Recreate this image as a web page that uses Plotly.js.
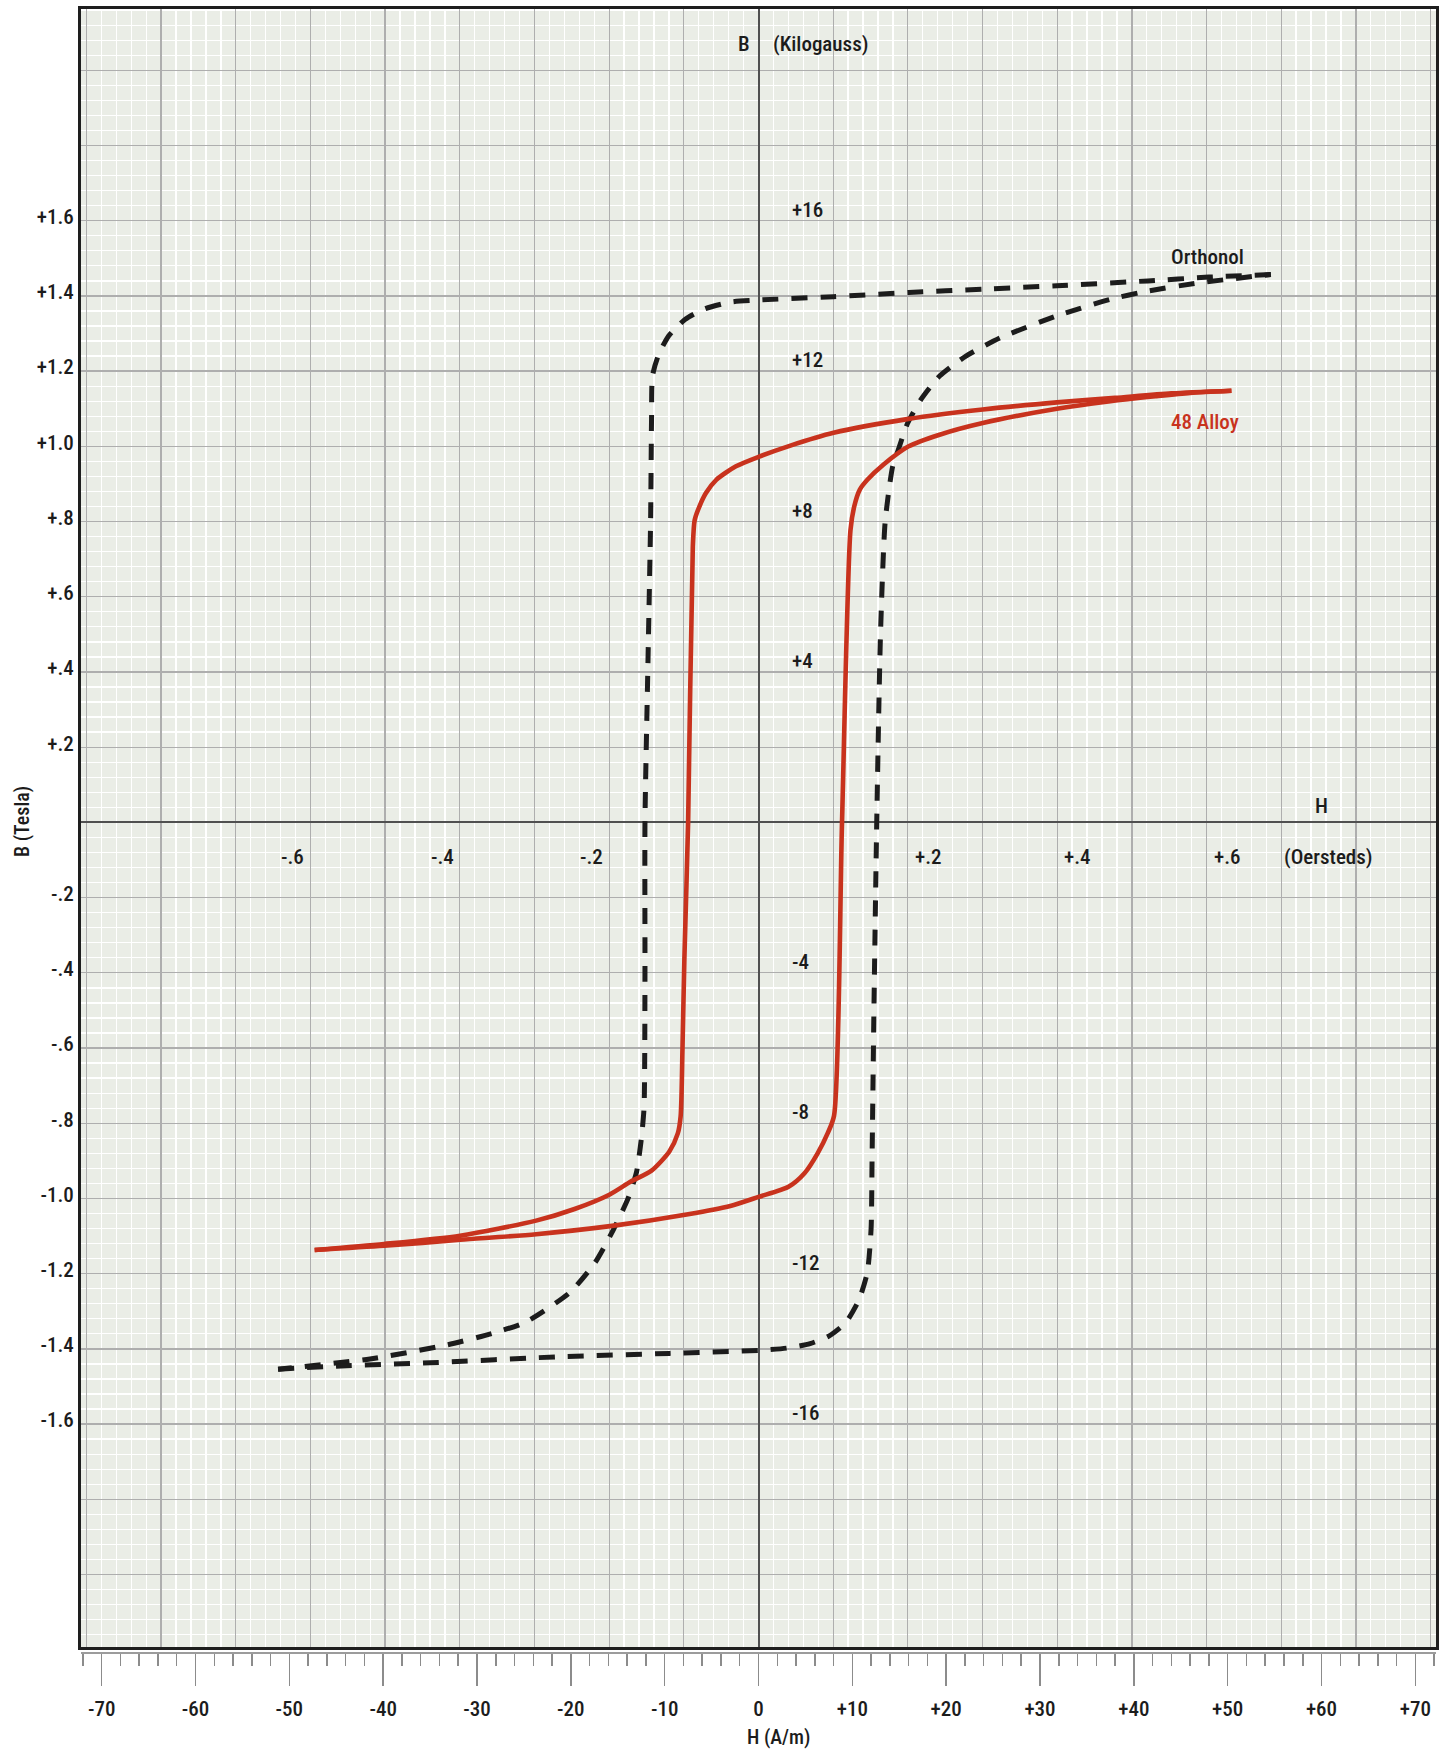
<!DOCTYPE html>
<html>
<head>
<meta charset="utf-8">
<script src="https://cdn.plot.ly/plotly-3.0.1.min.js"></script>
<style>
html,body{margin:0;padding:0;background:#ffffff;}
#chart{width:1450px;height:1752px;}
</style>
</head>
<body>
<div id="chart"></div>
<script>
// ---------- DATA (H in A/m, B in Tesla) ----------
const orthonolDescH = [54.6, 48.0, 41.5, 31.8, 23.9, 16.0, 8.0, 0, -2.9, -5.7, -7.8, -9.6, -10.7, -11.3, -11.4, -11.5, -11.8, -12.1, -12.1, -12.2, -12.5, -13.0, -13.9, -15.5, -17.4, -20.1, -24.9, -28.4, -33.1, -41.4, -51.2];
const orthonolDescB = [1.457, 1.450, 1.440, 1.427, 1.418, 1.409, 1.398, 1.389, 1.384, 1.366, 1.338, 1.293, 1.240, 1.187, 1.070, 0.800, 0.400, 0.000, -0.420, -0.760, -0.844, -0.930, -1.000, -1.085, -1.170, -1.250, -1.330, -1.359, -1.389, -1.427, -1.454];
const orthonolAscH = [-51.2, -45.0, -35.0, -21.3, -9.5, 0, 3.0, 5.5, 7.5, 9.3, 10.7, 11.6, 12.0, 12.1, 12.3, 12.6, 13.0, 13.5, 14.3, 14.9, 15.9, 17.3, 19.3, 22.1, 25.8, 31.8, 37.5, 41.5, 47.0, 54.6];
const orthonolAscB = [-1.454, -1.446, -1.437, -1.421, -1.412, -1.404, -1.398, -1.386, -1.366, -1.330, -1.270, -1.196, -1.080, -0.900, -0.500, 0.000, 0.500, 0.800, 0.947, 0.991, 1.062, 1.124, 1.187, 1.240, 1.289, 1.347, 1.391, 1.413, 1.435, 1.457];
const alloyDescH = [50.4, 44.0, 38.0, 31.8, 23.9, 16.0, 8.0, 3.4, 0, -2.4, -4.5, -5.6, -6.3, -6.8, -7.0, -7.5, -7.9, -8.1, -8.3, -8.6, -9.5, -11.4, -13.6, -15.9, -19.6, -23.7, -31.8, -39.9, -47.3];
const alloyDescB = [1.148, 1.141, 1.129, 1.117, 1.098, 1.073, 1.036, 1.002, 0.972, 0.947, 0.911, 0.876, 0.840, 0.804, 0.733, 0.000, -0.364, -0.600, -0.782, -0.827, -0.875, -0.926, -0.955, -0.990, -1.028, -1.059, -1.099, -1.121, -1.137];
const alloyAscH = [-47.3, -39.9, -31.8, -23.7, -15.6, -7.5, -3.0, 0, 3.2, 4.9, 6.3, 7.4, 8.05, 8.9, 9.8, 10.2, 10.8, 11.6, 13.3, 16.0, 19.3, 23.9, 31.8, 37.5, 42.3, 46.0, 50.4];
const alloyAscB = [-1.137, -1.126, -1.110, -1.095, -1.073, -1.042, -1.020, -0.996, -0.969, -0.933, -0.880, -0.825, -0.780, 0.000, 0.777, 0.840, 0.885, 0.911, 0.951, 1.000, 1.031, 1.062, 1.100, 1.120, 1.133, 1.142, 1.148];

// tick / label values
const amTickVals = [-70, -60, -50, -40, -30, -20, -10, 0, 10, 20, 30, 40, 50, 60, 70];
const amTickText = ['-70', '-60', '-50', '-40', '-30', '-20', '-10', '0', '+10', '+20', '+30', '+40', '+50', '+60', '+70'];
const teslaVals = [1.6, 1.4, 1.2, 1.0, 0.8, 0.6, 0.4, 0.2, -0.2, -0.4, -0.6, -0.8, -1.0, -1.2, -1.4, -1.6];
const teslaText = ['+1.6', '+1.4', '+1.2', '+1.0', '+.8', '+.6', '+.4', '+.2', '-.2', '-.4', '-.6', '-.8', '-1.0', '-1.2', '-1.4', '-1.6'];
const oerstedVals = [-0.6, -0.4, -0.2, 0.2, 0.4, 0.6];
const oerstedText = ['-.6', '-.4', '-.2', '+.2', '+.4', '+.6'];
const kilogaussVals = [16, 12, 8, 4, -4, -8, -12, -16];
const kilogaussText = ['+16', '+12', '+8', '+4', '-4', '-8', '-12', '-16'];

// ---------- CHART ----------
const AM_PER_OE = 1000 / (4 * Math.PI);   // 79.577 A/m per oersted
const FONT = "'Roboto Condensed', 'Open Sans Condensed', sans-serif";
const INK = '#1c1c1c';
const RED = '#c8321d';
const XR = [-72.2, 72.2];
const YR = [-2.193, 2.163];

const yGridVals = [];
const yGridText = [];
for (let i = -10; i <= 10; i++) {
  const v = Math.round(i * 0.2 * 10) / 10;
  yGridVals.push(v);
  const idx = teslaVals.findIndex(t => Math.abs(t - v) < 1e-9);
  yGridText.push(idx >= 0 ? teslaText[idx] : '');
}
const minorAm = [];
for (let v = -72; v <= 72; v += 2) { if (v % 10 !== 0) minorAm.push(v); }

const traces = [
  {x: orthonolDescH, y: orthonolDescB, mode: 'lines', line: {color: INK, width: 5, dash: '16px,13px', shape: 'spline', smoothing: 0.6}, hoverinfo: 'skip'},
  {x: orthonolAscH, y: orthonolAscB, mode: 'lines', line: {color: INK, width: 5, dash: '16px,13px', shape: 'spline', smoothing: 0.6}, hoverinfo: 'skip'},
  {x: alloyDescH, y: alloyDescB, xaxis: 'x2', mode: 'lines', line: {color: RED, width: 4.6, shape: 'spline', smoothing: 0.7}, hoverinfo: 'skip'},
  {x: alloyAscH, y: alloyAscB, xaxis: 'x2', mode: 'lines', line: {color: RED, width: 4.6, shape: 'spline', smoothing: 0.7}, hoverinfo: 'skip'}
];

const annotations = [];
const f = (size, color) => ({family: FONT, size: size, color: color || INK, weight: 500});
oerstedVals.forEach((v, i) => {
  annotations.push({x: v * AM_PER_OE, y: 0, xref: 'x', yref: 'y', text: oerstedText[i], showarrow: false,
    xanchor: v < 0 ? 'right' : 'left', xshift: v < 0 ? -4 : 5, yanchor: 'middle', yshift: -35, font: f(21)});
});
kilogaussVals.forEach((v, i) => {
  annotations.push({x: 0, y: v / 10, xref: 'x', yref: 'y', text: kilogaussText[i], showarrow: false,
    xanchor: 'left', xshift: 31, yanchor: 'middle', yshift: 11, font: f(21)});
});
annotations.push(
  {x: 0, y: 2.07, xref: 'x', yref: 'y', text: 'B', showarrow: false, xanchor: 'right', xshift: -7, yanchor: 'middle', font: f(21)},
  {x: 0, y: 2.07, xref: 'x', yref: 'y', text: '(Kilogauss)', showarrow: false, xanchor: 'left', xshift: 12, yanchor: 'middle', font: f(21)},
  {x: 60.0, y: 0.044, xref: 'x', yref: 'y', text: 'H', showarrow: false, xanchor: 'center', yanchor: 'middle', font: f(21)},
  {x: 60.7, y: -0.092, xref: 'x', yref: 'y', text: '(Oersteds)', showarrow: false, xanchor: 'center', yanchor: 'middle', font: f(21)},
  {x: 47.8, y: 1.504, xref: 'x', yref: 'y', text: 'Orthonol', showarrow: false, xanchor: 'center', yanchor: 'middle', font: f(21)},
  {x: 47.6, y: 1.065, xref: 'x', yref: 'y', text: '48 Alloy', showarrow: false, xanchor: 'center', yanchor: 'middle', font: f(21, RED)},
  {x: 22, y: 822, xref: 'paper', yref: 'paper', text: 'B (Tesla)', showarrow: false, textangle: -90, xanchor: 'center', yanchor: 'middle', font: f(20)},
  {x: 778, y: 1737, xref: 'paper', yref: 'paper', text: 'H (A/m)', showarrow: false, xanchor: 'center', yanchor: 'middle', font: f(20)}
);
const W = 1450, Hh = 1752, ML = 81, MR = 14, MT = 9, MB = 100;
annotations.forEach(a => {
  if (a.xref === 'paper' && a.x > 1) {
    a.x = (a.x - ML) / (W - ML - MR);
    a.y = 1 - (a.y - MT) / (Hh - MT - MB);
  }
});

const layout = {
  width: W, height: Hh,
  margin: {l: ML, r: MR, t: MT, b: MB, pad: 0},
  paper_bgcolor: '#ffffff',
  plot_bgcolor: '#eaede6',
  showlegend: false,
  font: {family: FONT, size: 21, color: INK},
  xaxis: {
    range: XR, tickmode: 'linear', tick0: 0, dtick: 0.1 * AM_PER_OE,
    showgrid: true, gridcolor: '#aeaeae', gridwidth: 1.3,
    zeroline: true, zerolinecolor: '#505050', zerolinewidth: 2,
    showticklabels: false, ticks: '',
    showline: true, mirror: true, linecolor: '#1e1e1e', linewidth: 3,
    minor: {tickmode: 'linear', tick0: 0, dtick: 0.02 * AM_PER_OE, showgrid: true, gridcolor: '#ffffff', gridwidth: 1.3, ticks: ''},
    fixedrange: true
  },
  xaxis2: {
    overlaying: 'x', anchor: 'free', position: 0, side: 'bottom',
    range: XR, tickmode: 'array', tickvals: amTickVals, ticktext: amTickText,
    ticks: 'outside', ticklen: 32, tickwidth: 1.5, tickcolor: '#8c8c8c',
    ticklabelstandoff: 5, tickfont: f(21),
    showline: true, linecolor: '#9c9c9c', linewidth: 1.5,
    showgrid: false, zeroline: false,
    minor: {tickmode: 'array', tickvals: minorAm, ticks: 'outside', ticklen: 12, tickwidth: 1.5, tickcolor: '#8c8c8c', showgrid: false},
    fixedrange: true
  },
  yaxis: {
    domain: [0.003, 1],
    range: YR, tickmode: 'array', tickvals: yGridVals, ticktext: yGridText,
    showgrid: true, gridcolor: '#aeaeae', gridwidth: 1.3,
    zeroline: true, zerolinecolor: '#505050', zerolinewidth: 2,
    ticks: '', ticklabelstandoff: 0, ticklabelshift: -4, tickfont: f(21),
    showline: true, mirror: true, linecolor: '#1e1e1e', linewidth: 3,
    minor: {tickmode: 'linear', tick0: 0, dtick: 0.04, showgrid: true, gridcolor: '#ffffff', gridwidth: 1.3, ticks: ''},
    fixedrange: true
  },
  annotations: annotations
};

Plotly.newPlot('chart', traces, layout, {displayModeBar: false, staticPlot: true});
</script>
</body>
</html>
